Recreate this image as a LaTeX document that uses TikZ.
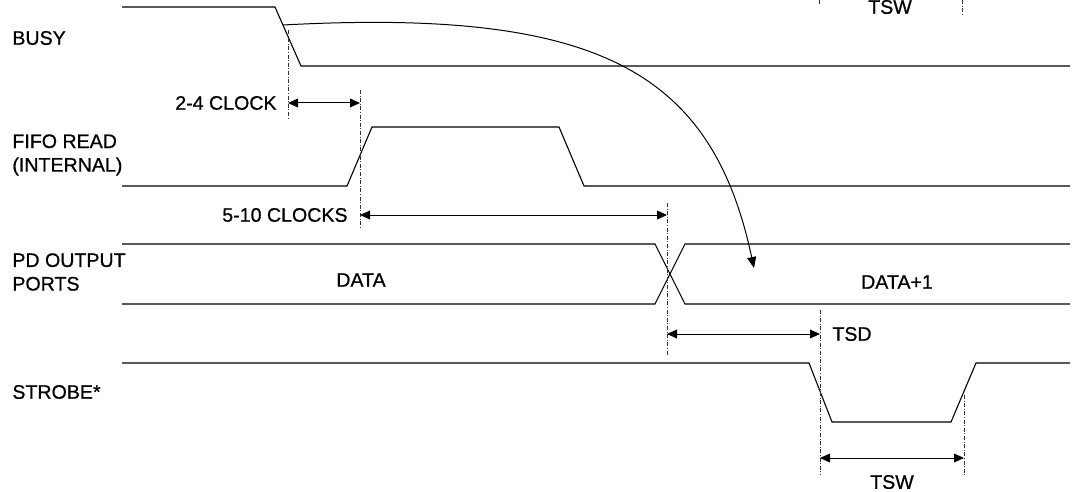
\documentclass[tikz,border=0pt]{standalone}
\usepackage{fontspec}
\setmainfont{Liberation Sans}[FakeBold=0.7]
\usetikzlibrary{arrows.meta,positioning,calc}

\begin{document}
\begin{tikzpicture}[x=0.5pt, y=-0.5pt,
  sig/.style   = {line width=0.55pt, line join=miter},
  guide/.style = {line width=0.4pt, black!80,
                  dash pattern=on 2pt off 0.8pt on 0.5pt off 0.8pt},
  dim/.style   = {{Triangle[length=5pt,width=4.4pt]}-{Triangle[length=5pt,width=4.4pt]},
                  line width=0.5pt},
  lbl/.style   = {font=\fontsize{9.8}{11.8}\selectfont, inner sep=0pt},
  signame/.style = {lbl, anchor=west, align=left}
]

\useasboundingbox (0,0) rectangle (1077,492);

% ,  Signal names (left column) ,
\node[signame] (nbusy)   at (12,38)  {BUSY};
\node[signame] (nfifo)   at (12,155) {FIFO READ\\(INTERNAL)};
\node[signame] (npd)     at (12,272) {PD OUTPUT\\PORTS};
\node[signame] (nstrobe) at (12,392) {STROBE*};

% ,  Waveforms ,
\draw[sig] (122,7) -- (275,7) -- (301,66) -- (1070,66);
\draw[sig] (122,186) -- (347,186) -- (372,127) -- (559,127) -- (584,186) -- (1070,186);
\draw[sig] (122,244) -- (655,244) -- (685,304) -- (1070,304);
\draw[sig] (122,304) -- (655,304) -- (685,244) -- (1070,244);
\draw[sig] (122,363) -- (809,363) -- (832,422) -- (951,422) -- (976,363) -- (1070,363);

\node[lbl] (data)  at (361,280) {DATA};
\node[lbl] (data1) at (897,282) {DATA+1};

% ,  Timing reference lines ,
\coordinate (g1t) at (288,30);  \coordinate (g1b) at (288,120);
\coordinate (g2t) at (360,90);  \coordinate (g2b) at (360,227);
\coordinate (g3t) at (667,203); \coordinate (g3b) at (667,355);
\coordinate (g4t) at (820,310); \coordinate (g4b) at (820,475);
\coordinate (g5t) at (964,395); \coordinate (g5b) at (964,475);
\coordinate (k1t) at (819,0);   \coordinate (k1b) at (819,5);
\coordinate (k2t) at (962,0);   \coordinate (k2b) at (962,15);
\foreach \g in {g1,g2,g3,g4,g5,k1,k2}
  \draw[guide] (\g t) -- (\g b);

% ,  Intervals ,
\coordinate (d1a) at (288,103); \coordinate (d1b) at (360,103);
\coordinate (d2a) at (360,215); \coordinate (d2b) at (667,215);
\coordinate (d3a) at (667,334); \coordinate (d3b) at (820,334);
\coordinate (d4a) at (820,458); \coordinate (d4b) at (964,458);
\draw[dim] (d1a) -- (d1b);
\draw[dim] (d2a) -- (d2b);
\draw[dim] (d3a) -- (d3b);
\draw[dim] (d4a) -- (d4b);

\node[lbl, left=5.5pt of d1a] (clk24)  {2-4 CLOCK};
\node[lbl, left=6pt of d2a]   (clk510) {5-10 CLOCKS};
\node[lbl, right=6pt of d3b]  (tsd)    {TSD};
\node[lbl] (tsw)    at (892,482) {TSW};
\node[lbl] (tswtop) at (890,7)   {TSW};

% ,  Busy to next data ,
\coordinate (cstart) at (283,25);
\coordinate (cend)   at (754,268);
\draw[line width=0.5pt, -{Triangle[length=5.5pt,width=4.5pt]}]
  (cstart) .. controls (600,8) and (712,72) .. (cend);

\end{tikzpicture}
\end{document}
